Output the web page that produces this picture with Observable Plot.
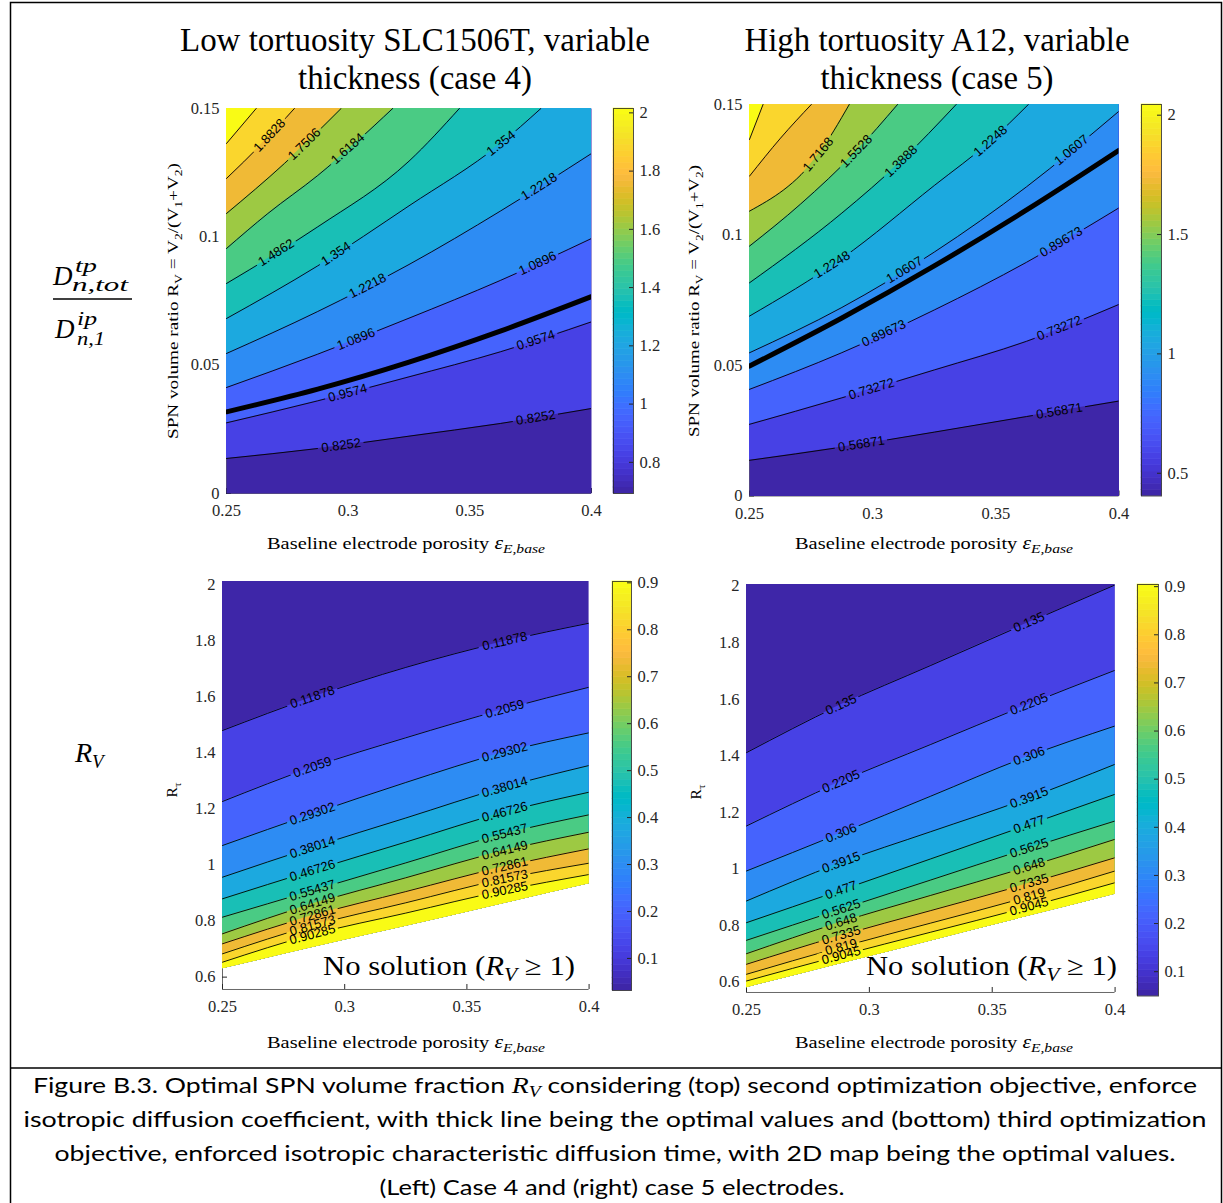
<!DOCTYPE html>
<html>
<head>
<meta charset="utf-8">
<title>Optimal SPN volume fraction</title>
<script src="https://cdn.jsdelivr.net/npm/d3@7"></script>
<script src="https://cdn.jsdelivr.net/npm/@observablehq/plot@0.6"></script>
<style>
  html, body { margin: 0; padding: 0; background: #fff; }
  #figure { position: relative; width: 1223px; height: 1203px; overflow: hidden; background: #fff; }
  #figure > svg { position: absolute; }
  #figure text { white-space: pre; }
</style>
</head>
<body>
<div id="figure"></div>
<script>
// MATLAB parula colormap, 64 entries
const parula = [
  [0.2422,0.1504,0.6603],[0.2504,0.1650,0.7076],[0.2578,0.1818,0.7511],[0.2647,0.1978,0.7952],
  [0.2706,0.2147,0.8364],[0.2751,0.2342,0.8710],[0.2783,0.2559,0.8991],[0.2803,0.2782,0.9221],
  [0.2813,0.3006,0.9414],[0.2810,0.3228,0.9579],[0.2795,0.3447,0.9717],[0.2760,0.3667,0.9829],
  [0.2699,0.3892,0.9906],[0.2602,0.4123,0.9952],[0.2440,0.4358,0.9988],[0.2206,0.4603,0.9973],
  [0.1963,0.4847,0.9892],[0.1834,0.5074,0.9798],[0.1786,0.5289,0.9682],[0.1764,0.5499,0.9520],
  [0.1687,0.5703,0.9359],[0.1540,0.5902,0.9218],[0.1460,0.6091,0.9079],[0.1380,0.6276,0.8973],
  [0.1248,0.6459,0.8883],[0.1113,0.6635,0.8763],[0.0952,0.6798,0.8598],[0.0689,0.6948,0.8394],
  [0.0297,0.7082,0.8163],[0.0036,0.7203,0.7917],[0.0067,0.7312,0.7660],[0.0433,0.7411,0.7394],
  [0.0964,0.7500,0.7120],[0.1408,0.7584,0.6842],[0.1717,0.7670,0.6554],[0.1938,0.7758,0.6251],
  [0.2161,0.7843,0.5923],[0.2470,0.7918,0.5567],[0.2906,0.7973,0.5188],[0.3406,0.8008,0.4789],
  [0.3909,0.8029,0.4354],[0.4456,0.8024,0.3909],[0.5044,0.7993,0.3480],[0.5616,0.7942,0.3045],
  [0.6174,0.7876,0.2612],[0.6720,0.7793,0.2227],[0.7242,0.7698,0.1910],[0.7738,0.7598,0.1646],
  [0.8203,0.7498,0.1535],[0.8634,0.7406,0.1596],[0.9035,0.7330,0.1774],[0.9393,0.7288,0.2100],
  [0.9728,0.7298,0.2394],[0.9956,0.7434,0.2371],[0.9970,0.7659,0.2199],[0.9952,0.7893,0.2028],
  [0.9892,0.8136,0.1885],[0.9786,0.8386,0.1766],[0.9676,0.8639,0.1643],[0.9610,0.8890,0.1537],
  [0.9597,0.9135,0.1423],[0.9628,0.9373,0.1265],[0.9691,0.9606,0.1064],[0.9769,0.9839,0.0805]
];
const parulaHex = parula.map(([r, g, b]) => d3.rgb(r * 255, g * 255, b * 255).formatHex());

// ---------- top left: low tortuosity SLC1506T, D ratio ----------
const tlClim = [0.693, 2.015];
const tlLevels = [0.8252, 0.9574, 1.0896, 1.2218, 1.354, 1.4862, 1.6184, 1.7506, 1.8828, 2.015];
const tlContours = [
  [[0.25, 0.01364], [0.2875, 0.01753], [0.325, 0.02234], [0.3625, 0.02727], [0.4, 0.03312]],
  [[0.25, 0.02753], [0.2875, 0.03610], [0.325, 0.04545], [0.3625, 0.05519], [0.4, 0.06688]],
  [[0.25, 0.04130], [0.2875, 0.05429], [0.325, 0.06831], [0.3625, 0.08299], [0.4, 0.09935]],
  [[0.25, 0.05455], [0.2875, 0.07091], [0.325, 0.08922], [0.3625, 0.11000], [0.4, 0.13247]],
  [[0.25, 0.06818], [0.2875, 0.08870], [0.325, 0.11208], [0.3625, 0.13623], [0.3792, 0.15]],
  [[0.25, 0.08182], [0.2875, 0.10390], [0.325, 0.12948], [0.3457, 0.15]],
  [[0.25, 0.09545], [0.2670, 0.10909], [0.2875, 0.12390], [0.3183, 0.15]],
  [[0.25, 0.10909], [0.2738, 0.12857], [0.2971, 0.15]],
  [[0.25, 0.12273], [0.2642, 0.13597], [0.2779, 0.15]],
  [[0.25, 0.13636], [0.2622, 0.15]]
];
const tlOptimal = [[0.25, 0.03182], [0.2875, 0.04066], [0.325, 0.05118], [0.3625, 0.06326], [0.4, 0.07670]];
const tlLabelAt = [[0, 0.2971], [0, 0.3771], [1, 0.2998], [1, 0.3771], [2, 0.3032], [2, 0.3778],
  [3, 0.3080], [3, 0.3785], [4, 0.2950], [4, 0.3628], [5, 0.2704], [6, 0.2998], [7, 0.2820], [8, 0.2677]];

// ---------- top right: high tortuosity A12, D ratio ----------
const trClim = [0.4047, 2.0448];
const trLevels = [0.56871, 0.73272, 0.89673, 1.0607, 1.2248, 1.3888, 1.5528, 1.7168, 1.8808, 2.0448];
const trContours = [
  [[0.25, 0.01367], [0.2875, 0.01873], [0.325, 0.02447], [0.3625, 0.03044], [0.4, 0.03638]],
  [[0.25, 0.02746], [0.2875, 0.03761], [0.325, 0.04829], [0.3625, 0.05928], [0.4, 0.07341]],
  [[0.25, 0.04086], [0.2875, 0.05492], [0.325, 0.07127], [0.3625, 0.08957], [0.4, 0.11040]],
  [[0.25, 0.05488], [0.2875, 0.07223], [0.325, 0.09344], [0.3625, 0.11849], [0.4, 0.14744]],
  [[0.25, 0.06893], [0.2875, 0.09103], [0.325, 0.11895], [0.3477, 0.13595], [0.3632, 0.15]],
  [[0.25, 0.08168], [0.2875, 0.10840], [0.3115, 0.12829], [0.3339, 0.15]],
  [[0.25, 0.09574], [0.2707, 0.11182], [0.2933, 0.13212], [0.3101, 0.15]],
  [[0.25, 0.10914], [0.2779, 0.13086], [0.2905, 0.15]],
  [[0.25, 0.12254], [0.2626, 0.13710], [0.2751, 0.15]],
  [[0.25, 0.13660], [0.2555, 0.15]]
];
const trOptimal = [[0.25, 0.04978], [0.2875, 0.06820], [0.325, 0.08815], [0.3625, 0.10960], [0.4, 0.13246]];
const trLabelAt = [[0, 0.2954], [0, 0.3758], [1, 0.2995], [1, 0.3758], [2, 0.3045], [2, 0.3765],
  [3, 0.3129], [3, 0.3807], [4, 0.2835], [4, 0.3478], [5, 0.3115], [6, 0.2933], [7, 0.2779]];

// ---------- bottom left: low tortuosity, optimal R_V map over (porosity, R_tau) ----------
const blClim = [0.03166, 0.90285];
const blLevels = [0.11878, 0.2059, 0.29302, 0.38014, 0.46726, 0.55437, 0.64149, 0.72861, 0.81573, 0.90285];
const blX = [0.25, 0.2868, 0.325, 0.3652, 0.4];
const blContours = [
  [1.4790, 1.5977, 1.7038, 1.7966, 1.8614],
  [1.2260, 1.3482, 1.4530, 1.5550, 1.6333],
  [1.0692, 1.1822, 1.2937, 1.4017, 1.4708],
  [0.9562, 1.0631, 1.1672, 1.2770, 1.3543],
  [0.8792, 0.9801, 1.0813, 1.1879, 1.2591],
  [0.8137, 0.9088, 1.0072, 1.1109, 1.1786],
  [0.7545, 0.8614, 0.9541, 1.0514, 1.1166],
  [0.7189, 0.8197, 0.9049, 0.9943, 1.0574],
  [0.6832, 0.7841, 0.8650, 0.9505, 1.0061],
  [0.6533, 0.7520, 0.8283, 0.9088, 0.9658]
];
// lower edge of the solution domain (R_V reaches 1 below it)
const blEdge = [0.6298, 0.7057, 0.7812, 0.8625, 0.9327];
const blLabelX = [0.2868, 0.3655];

// ---------- bottom right: high tortuosity ----------
const brClim = [0.0495, 0.9045];
const brLevels = [0.135, 0.2205, 0.306, 0.3915, 0.477, 0.5625, 0.648, 0.7335, 0.819, 0.9045];
const brX = [0.25, 0.2875, 0.325, 0.3625, 0.4];
const brContours = [
  [1.4113, 1.5771, 1.7197, 1.8630, 2.0045],
  [1.1520, 1.3058, 1.4403, 1.5747, 1.7027],
  [0.9928, 1.1237, 1.2574, 1.3918, 1.5057],
  [0.8867, 1.0197, 1.1318, 1.2436, 1.3702],
  [0.8099, 0.9220, 1.0356, 1.1495, 1.2641],
  [0.7476, 0.8548, 0.9609, 1.0671, 1.1696],
  [0.7002, 0.8099, 0.9065, 1.0023, 1.1049],
  [0.6628, 0.7629, 0.8527, 0.9429, 1.0398],
  [0.6274, 0.7215, 0.8085, 0.8962, 0.9928],
  [0.6037, 0.6921, 0.7763, 0.8608, 0.9514]
];
const brEdge = [0.5800, 0.6626, 0.7452, 0.8278, 0.9104];
const brLabelX = [0.2885, 0.3650];

// ---------- axes ----------
const porosityTicks = [0.25, 0.3, 0.35, 0.4];
const ratioTicks = [0, 0.05, 0.1, 0.15];
const tauTicks = [0.6, 0.8, 1, 1.2, 1.4, 1.6, 1.8, 2];
const tlBarTicks = [0.8, 1, 1.2, 1.4, 1.6, 1.8, 2];
const trBarTicks = [0.5, 1, 1.5, 2];
const rvBarTicks = [0.1, 0.2, 0.3, 0.4, 0.5, 0.6, 0.7, 0.8, 0.9];

const SERIF = "'Liberation Serif', 'Times New Roman', serif";
const SANS = "'Liberation Sans', Arial, sans-serif";
const INK = "#262626";
const TICK_FONT = {fontFamily: SERIF, fontSize: 16.5, fill: INK};
const fig = document.getElementById("figure");

// filled-contour colour of the band that starts at level v (MATLAB colormap indexing)
function bandColor(v, clim) {
  const t = (v - clim[0]) / (clim[1] - clim[0]);
  const i = Math.floor(t * 64 + 1e-6);
  return parulaHex[Math.max(0, Math.min(63, i))];
}
function lineY(pts, x) {
  for (let i = 1; i < pts.length; i++) {
    if (x <= pts[i][0] || i === pts.length - 1) {
      const [x0, y0] = pts[i - 1], [x1, y1] = pts[i];
      return y0 + (y1 - y0) * (x - x0) / (x1 - x0);
    }
  }
}
function place(svg, left, top) {
  svg.style.left = left + "px";
  svg.style.top = top + "px";
  fig.appendChild(svg);
}

function contourPanel(cfg) {
  const [aL, aT, aR, aB] = cfg.area;
  const mL = 70, mT = 12, mR = 12, mB = 40;
  const aw = aR - aL, ah = aB - aT;
  const W = aw + mL + mR, H = ah + mT + mB;
  const [xMin] = cfg.xDomain, [yMin, yMax] = cfg.yDomain;
  const sx = d3.scaleLinear(cfg.xDomain, [mL, W - mR]);
  const sy = d3.scaleLinear(cfg.yDomain, [H - mB, mT]);
  const curve = "monotone-x";
  const lines = cfg.lines; // arrays of [x, y]
  const marks = [
    // axes sit beneath the filled map, as in MATLAB's default layering
    Plot.ruleY([yMin], {stroke: INK, strokeOpacity: 0.7}),
    Plot.ruleX([xMin], {stroke: INK, strokeOpacity: 0.7}),
    Plot.tickX(cfg.xTicks, {x: d => d, insetTop: ah - 5, stroke: INK}),
    Plot.tickY(cfg.yTicks, {y: d => d, insetRight: aw - 5, stroke: INK}),
    Plot.axisX(cfg.xTicks, {tickSize: 0, tickPadding: 11, label: null, tickFormat: d => String(d), ...TICK_FONT}),
    Plot.axisY(cfg.yTicks, {tickSize: 0, tickPadding: 7, label: null, tickFormat: d => String(d), ...TICK_FONT})
  ];
  if (cfg.edge) {
    // map region between the upper frame and the lower solution edge
    const edgePts = cfg.edge;
    marks.push(Plot.areaY(edgePts, {x: d => d[0], y1: d => d[1], y2: yMax, fill: bandColor(cfg.clim[0], cfg.clim), curve}));
    cfg.levels.forEach((lv, i) => {
      const pts = lines[i].map((p, j) => [p[0], p[1], edgePts[j][1]]);
      marks.push(Plot.areaY(pts, {x: d => d[0], y1: d => d[2], y2: d => d[1], fill: bandColor(lv, cfg.clim), curve}));
    });
  } else {
    marks.push(Plot.frame({fill: bandColor(cfg.clim[0], cfg.clim)}));
    cfg.levels.forEach((lv, i) => {
      marks.push(Plot.areaY(lines[i], {x: d => d[0], y1: d => d[1], y2: yMax, fill: bandColor(lv, cfg.clim), curve}));
    });
  }
  cfg.levels.forEach((lv, i) => {
    marks.push(Plot.line(lines[i], {x: d => d[0], y: d => d[1], stroke: "#000", strokeWidth: 0.9, curve, clip: true}));
  });
  if (cfg.optimal) {
    marks.push(Plot.line(cfg.optimal, {x: d => d[0], y: d => d[1], stroke: "#000", strokeWidth: 5, curve, clip: true}));
  }
  // contour labels: placed along their line, rotated to its local slope
  const fs = 13;
  const labels = cfg.labelAt.map(([i, x]) => {
    const pts = lines[i];
    const y = lineY(pts, x);
    const h = 0.004;
    const dxp = sx(x + h) - sx(x - h), dyp = sy(lineY(pts, x + h)) - sy(lineY(pts, x - h));
    const angle = Math.atan2(dyp, dxp) * 180 / Math.PI;
    const text = String(cfg.levels[i]);
    const w = [...text].reduce((s, c) => s + (c === "." ? 0.278 : 0.556), 0) * fs;
    return {x, y, text, angle, px: sx(x), py: sy(y), w: w + 6, h: fs * 1.05};
  });
  marks.push(Plot.text(labels, {x: "x", y: "y", text: "text", rotate: "angle", fontFamily: SANS, fontSize: fs, fill: "#000"}));

  const svg = Plot.plot({
    width: W, height: H, marginLeft: mL, marginRight: mR, marginTop: mT, marginBottom: mB,
    x: {domain: cfg.xDomain}, y: {domain: cfg.yDomain},
    style: {fontFamily: SERIF, fontSize: "16.5px", color: INK, background: "transparent", overflow: "visible"},
    marks
  });
  // break the contour lines under their labels
  const sel = d3.select(svg);
  const id = "gap-" + cfg.id;
  const mask = sel.insert("defs", ":first-child").append("mask").attr("id", id)
    .attr("maskUnits", "userSpaceOnUse").attr("x", 0).attr("y", 0).attr("width", W).attr("height", H);
  mask.append("rect").attr("width", W).attr("height", H).attr("fill", "white");
  for (const L of labels) {
    mask.append("rect").attr("x", -L.w / 2).attr("y", -L.h / 2).attr("width", L.w).attr("height", L.h)
      .attr("transform", `translate(${L.px},${L.py}) rotate(${L.angle})`).attr("fill", "black");
  }
  sel.selectAll('g[aria-label="line"]').attr("mask", `url(#${id})`);
  place(svg, aL - mL, aT - mT);
}

function colorbar(cfg) {
  const [bL, bT, bR, bB] = cfg.box;
  const mR = 45, mT = 10, mB = 10;
  const bw = bR - bL;
  const n = parulaHex.length, [c0, c1] = cfg.clim;
  const svg = Plot.plot({
    width: bw + mR, height: bB - bT + mT + mB,
    marginLeft: 0, marginRight: mR, marginTop: mT, marginBottom: mB,
    x: {domain: [0, 1], axis: null}, y: {domain: cfg.clim},
    style: {fontFamily: SERIF, fontSize: "16.5px", color: INK, background: "transparent", overflow: "visible"},
    marks: [
      Plot.rect(d3.range(n), {y1: i => c0 + i * (c1 - c0) / n, y2: i => c0 + (i + 1) * (c1 - c0) / n,
        fill: i => parulaHex[i], stroke: i => parulaHex[i], strokeWidth: 0.6}),
      Plot.tickY(cfg.ticks, {y: d => d, insetLeft: bw - 4, stroke: INK}),
      Plot.axisY(cfg.ticks, {anchor: "right", tickSize: 0, tickPadding: 6, label: null, tickFormat: d => String(d), ...TICK_FONT}),
      Plot.frame({stroke: INK, strokeOpacity: 0.8})
    ]
  });
  place(svg, bL, bT - mT);
}

const pair = (xs, ys) => xs.map((x, j) => [x, ys[j]]);

contourPanel({id: "tl", area: [225.5, 108, 590.5, 493], xDomain: [0.25, 0.4], yDomain: [0, 0.15],
  xTicks: porosityTicks, yTicks: ratioTicks, clim: tlClim, levels: tlLevels, lines: tlContours,
  optimal: tlOptimal, labelAt: tlLabelAt});
colorbar({box: [612.5, 108, 632.5, 493], clim: tlClim, ticks: tlBarTicks});

contourPanel({id: "tr", area: [749, 103.5, 1118.5, 495], xDomain: [0.25, 0.4], yDomain: [0, 0.15],
  xTicks: porosityTicks, yTicks: ratioTicks, clim: trClim, levels: trLevels, lines: trContours,
  optimal: trOptimal, labelAt: trLabelAt});
colorbar({box: [1141, 103.5, 1161, 495], clim: trClim, ticks: trBarTicks});

contourPanel({id: "bl", area: [221.7, 581, 588.3, 989], xDomain: [0.25, 0.4], yDomain: [0.556, 2.01],
  xTicks: porosityTicks, yTicks: tauTicks, clim: blClim, levels: blLevels,
  lines: blContours.map(ys => pair(blX, ys)), edge: pair(blX, blEdge),
  labelAt: blLevels.flatMap((_, i) => blLabelX.map(x => [i, x]))});
colorbar({box: [612, 581, 631, 990], clim: blClim, ticks: rvBarTicks});

contourPanel({id: "br", area: [746, 583.5, 1114.6, 991.5], xDomain: [0.25, 0.4], yDomain: [0.563, 2.006],
  xTicks: porosityTicks, yTicks: tauTicks, clim: brClim, levels: brLevels,
  lines: brContours.map(ys => pair(brX, ys)), edge: pair(brX, brEdge),
  labelAt: brLevels.flatMap((_, i) => brLabelX.map(x => [i, x]))});
colorbar({box: [1137, 583.5, 1158, 995], clim: brClim, ticks: rvBarTicks});

// ---------- titles, axis titles, side labels, caption ----------
const ov = d3.select(fig).append("svg").attr("width", 1223).attr("height", 1203)
  .style("left", "0px").style("top", "0px").style("pointer-events", "none");

function rich(x, y, parts, o = {}) {
  const t = ov.append("text").attr("x", x).attr("y", y)
    .attr("font-family", o.family || SERIF).attr("font-size", o.size)
    .attr("text-anchor", o.anchor || "middle").attr("fill", o.fill || "#000");
  if (o.length) t.attr("textLength", o.length).attr("lengthAdjust", "spacingAndGlyphs");
  if (o.rotate) t.attr("transform", `rotate(${o.rotate},${x},${y})`);
  let shift = 0;
  for (const p of parts) {
    const [s, st] = typeof p === "string" ? [p, {}] : p;
    const target = st.sub ? (o.subShift || 4) : st.sup ? -(o.supShift || 6) : 0;
    const span = t.append("tspan").text(s);
    if (target !== shift) span.attr("dy", target - shift);
    shift = target;
    if (st.italic) span.attr("font-style", "italic");
    if (st.size) span.attr("font-size", st.size);
    if (st.family) span.attr("font-family", st.family);
  }
  return t;
}

// frame of the figure and caption cell
ov.append("rect").attr("x", 10.5).attr("y", 2.5).attr("width", 1211).attr("height", 1220)
  .attr("fill", "none").attr("stroke", "#000").attr("stroke-width", 1.5);
ov.append("line").attr("x1", 10.5).attr("x2", 1221.5).attr("y1", 1068).attr("y2", 1068)
  .attr("stroke", "#000").attr("stroke-width", 1.5);

// column titles
rich(415, 51, ["Low tortuosity SLC1506T, variable"], {size: 33, length: 470});
rich(415, 89, ["thickness (case 4)"], {size: 33, length: 234});
rich(937, 51, ["High tortuosity A12, variable"], {size: 33, length: 385});
rich(937, 89, ["thickness (case 5)"], {size: 33, length: 233});

// porosity axis titles
const porLabel = ["Baseline electrode porosity ", ["ε", {italic: true, size: 18}], ["E,base", {italic: true, sub: true, size: 13}]];
rich(406, 549, porLabel, {size: 17, length: 278});
rich(934, 549, porLabel, {size: 17, length: 278});
rich(406, 1048, porLabel, {size: 17, length: 278});
rich(934, 1048, porLabel, {size: 17, length: 278});

// volume ratio axis titles
const rvLabel = ["SPN volume ratio R", ["V", {sub: true, size: 11}], " = V", ["2", {sub: true, size: 11}], "/(V",
  ["1", {sub: true, size: 11}], "+V", ["2", {sub: true, size: 11}], ")"];
rich(178, 301, rvLabel, {size: 15.5, rotate: -90, subShift: 4, length: 276});
rich(699, 301, rvLabel, {size: 15.5, rotate: -90, subShift: 4, length: 272});
// tortuosity ratio axis titles
rich(177, 790, ["R", ["τ", {sub: true, size: 11}]], {size: 15.5, rotate: -90, subShift: 4});
rich(701, 792, ["R", ["τ", {sub: true, size: 11}]], {size: 15.5, rotate: -90, subShift: 4});

// no-solution notes
const noSol = ["No solution (", ["R", {italic: true}], ["V", {italic: true, sub: true, size: 19}], " ≥ 1)"];
rich(575, 975, noSol, {size: 27, anchor: "end", subShift: 6, length: 252});
rich(1117, 975, noSol, {size: 27, anchor: "end", subShift: 6, length: 251});

// row labels
rich(53, 285, [["D", {italic: true}]], {size: 27, anchor: "start"});
rich(75, 272, [["tp", {italic: true}]], {size: 19, anchor: "start", length: 22});
rich(72, 291, [["n,tot", {italic: true}]], {size: 19, anchor: "start", length: 56});
ov.append("line").attr("x1", 53).attr("x2", 132).attr("y1", 299).attr("y2", 299).attr("stroke", "#000").attr("stroke-width", 1.4);
rich(55, 338, [["D", {italic: true}]], {size: 27, anchor: "start"});
rich(77, 325, [["ip", {italic: true}]], {size: 19, anchor: "start", length: 20});
rich(77, 345, [["n,1", {italic: true}]], {size: 19, anchor: "start", length: 28});
rich(75, 762, [["R", {italic: true}], ["V", {italic: true, sub: true, size: 19}]], {size: 28, anchor: "start", subShift: 6});

// caption
const CAP = "Lato, 'Open Sans', sans-serif";
rich(615, 1093, ["Figure B.3. Optimal SPN volume fraction ", ["R", {italic: true, family: SERIF, size: 23}],
  ["V", {italic: true, sub: true, family: SERIF, size: 16}], " considering (top) second optimization objective, enforce"],
  {size: 22, family: CAP, length: 1164, subShift: 4});
rich(615, 1127, ["isotropic diffusion coefficient, with thick line being the optimal values and (bottom) third optimization"],
  {size: 22, family: CAP, length: 1183});
rich(615, 1161, ["objective, enforced isotropic characteristic diffusion time, with 2D map being the optimal values."],
  {size: 22, family: CAP, length: 1121});
rich(612, 1195, ["(Left) Case 4 and (right) case 5 electrodes."], {size: 22, family: CAP, length: 465});
</script>
</body>
</html>
